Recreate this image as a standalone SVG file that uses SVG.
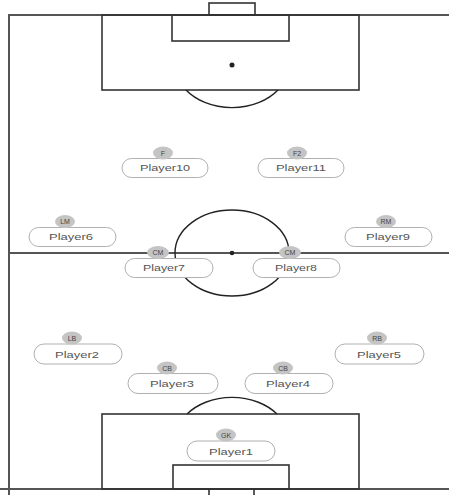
<svg xmlns="http://www.w3.org/2000/svg" width="449" height="495" viewBox="0 0 449 495">
<style>
.line{fill:none;stroke:#333;stroke-width:1.6}
.outer{fill:none;stroke:#555;stroke-width:2}
.arc{fill:none;stroke:#222;stroke-width:1.4}
.pill{fill:#fff;stroke:#b0b0b0;stroke-width:1}
.tag{fill:#c4c4c4}
.name{font-family:"Liberation Sans",Arial,sans-serif;font-size:9px;fill:#555;text-anchor:middle}
.pos{font-family:"Liberation Sans",Arial,sans-serif;font-size:7px;fill:#444;text-anchor:middle}
</style>
<rect width="449" height="495" fill="#fff"/>
<g id="pitch">
  <path class="outer" d="M9,495 V15 H449"/>
  <line class="outer" x1="9" y1="253" x2="449" y2="253"/>
  <line class="outer" x1="0" y1="489" x2="449" y2="489"/>
  <rect class="line" x="209" y="3" width="46" height="12"/>
  <rect class="line" x="102" y="15" width="257" height="75"/>
  <rect class="line" x="172" y="15" width="117" height="26"/>
  <circle cx="232" cy="65" r="2.5" fill="#222"/>
  <path class="arc" d="M186,90 A57,43 0 0 0 278,90"/>
  <ellipse class="arc" cx="232" cy="253" rx="57" ry="43"/>
  <circle cx="232" cy="253" r="2.3" fill="#222"/>
  <rect class="line" x="102" y="414" width="257" height="75"/>
  <rect class="line" x="173" y="465" width="116" height="24"/>
  <path class="arc" d="M187,414 A57,43 0 0 1 277,414"/>
  <path class="line" d="M209,495 V489 M254,489 V495"/>
</g>
<g id="connectors"></g>
<g id="F">
  <rect class="pill" x="122" y="158.5" width="86" height="19" rx="9.5"/>
  <ellipse class="tag" cx="163" cy="153" rx="10" ry="6.5"/>
  <text class="pos" x="163" y="155.5">F</text>
  <text class="name" x="165" y="171" textLength="50" lengthAdjust="spacingAndGlyphs">Player10</text>
</g>
<g id="F2">
  <rect class="pill" x="258" y="158.5" width="86" height="19" rx="9.5"/>
  <ellipse class="tag" cx="297" cy="153" rx="10" ry="6.5"/>
  <text class="pos" x="297" y="155.5">F2</text>
  <text class="name" x="301" y="171" textLength="50" lengthAdjust="spacingAndGlyphs">Player11</text>
</g>
<g id="LM">
  <rect class="pill" x="29" y="227.5" width="87" height="19" rx="9.5"/>
  <ellipse class="tag" cx="65" cy="221.5" rx="10" ry="6.5"/>
  <text class="pos" x="65" y="224">LM</text>
  <text class="name" x="71" y="240" textLength="44" lengthAdjust="spacingAndGlyphs">Player6</text>
</g>
<g id="RM">
  <rect class="pill" x="345" y="227.5" width="87" height="19" rx="9.5"/>
  <ellipse class="tag" cx="386" cy="221.5" rx="10" ry="6.5"/>
  <text class="pos" x="386" y="224">RM</text>
  <text class="name" x="388" y="240" textLength="44" lengthAdjust="spacingAndGlyphs">Player9</text>
</g>
<g id="CM1">
  <rect class="pill" x="125" y="258.5" width="88" height="19" rx="9.5"/>
  <ellipse class="tag" cx="158" cy="252.5" rx="11" ry="6.5"/>
  <text class="pos" x="158" y="255">CM</text>
  <text class="name" x="164" y="271" textLength="42" lengthAdjust="spacingAndGlyphs">Player7</text>
</g>
<g id="CM2">
  <rect class="pill" x="253" y="258.5" width="87" height="19" rx="9.5"/>
  <ellipse class="tag" cx="290" cy="252.5" rx="11" ry="6.5"/>
  <text class="pos" x="290" y="255">CM</text>
  <text class="name" x="296" y="271" textLength="42" lengthAdjust="spacingAndGlyphs">Player8</text>
</g>
<g id="LB">
  <rect class="pill" x="34" y="344" width="88" height="20" rx="10"/>
  <ellipse class="tag" cx="72" cy="338" rx="10" ry="6.5"/>
  <text class="pos" x="72" y="340.5">LB</text>
  <text class="name" x="77" y="357.5" textLength="44" lengthAdjust="spacingAndGlyphs">Player2</text>
</g>
<g id="RB">
  <rect class="pill" x="335" y="344" width="89" height="20" rx="10"/>
  <ellipse class="tag" cx="377" cy="338" rx="10" ry="6.5"/>
  <text class="pos" x="377" y="340.5">RB</text>
  <text class="name" x="379" y="357.5" textLength="44" lengthAdjust="spacingAndGlyphs">Player5</text>
</g>
<g id="CB1">
  <rect class="pill" x="128" y="373.5" width="90" height="20" rx="10"/>
  <ellipse class="tag" cx="167" cy="368" rx="10" ry="6.5"/>
  <text class="pos" x="167" y="370.5">CB</text>
  <text class="name" x="172" y="387" textLength="44" lengthAdjust="spacingAndGlyphs">Player3</text>
</g>
<g id="CB2">
  <rect class="pill" x="245" y="373.5" width="88" height="20" rx="10"/>
  <ellipse class="tag" cx="283" cy="368" rx="10" ry="6.5"/>
  <text class="pos" x="283" y="370.5">CB</text>
  <text class="name" x="288" y="387" textLength="44" lengthAdjust="spacingAndGlyphs">Player4</text>
</g>
<g id="GK">
  <rect class="pill" x="187" y="441" width="88" height="20" rx="10"/>
  <ellipse class="tag" cx="226" cy="435" rx="10" ry="6.5"/>
  <text class="pos" x="226" y="437.5">GK</text>
  <text class="name" x="231" y="454.5" textLength="44" lengthAdjust="spacingAndGlyphs">Player1</text>
</g>
</svg>
